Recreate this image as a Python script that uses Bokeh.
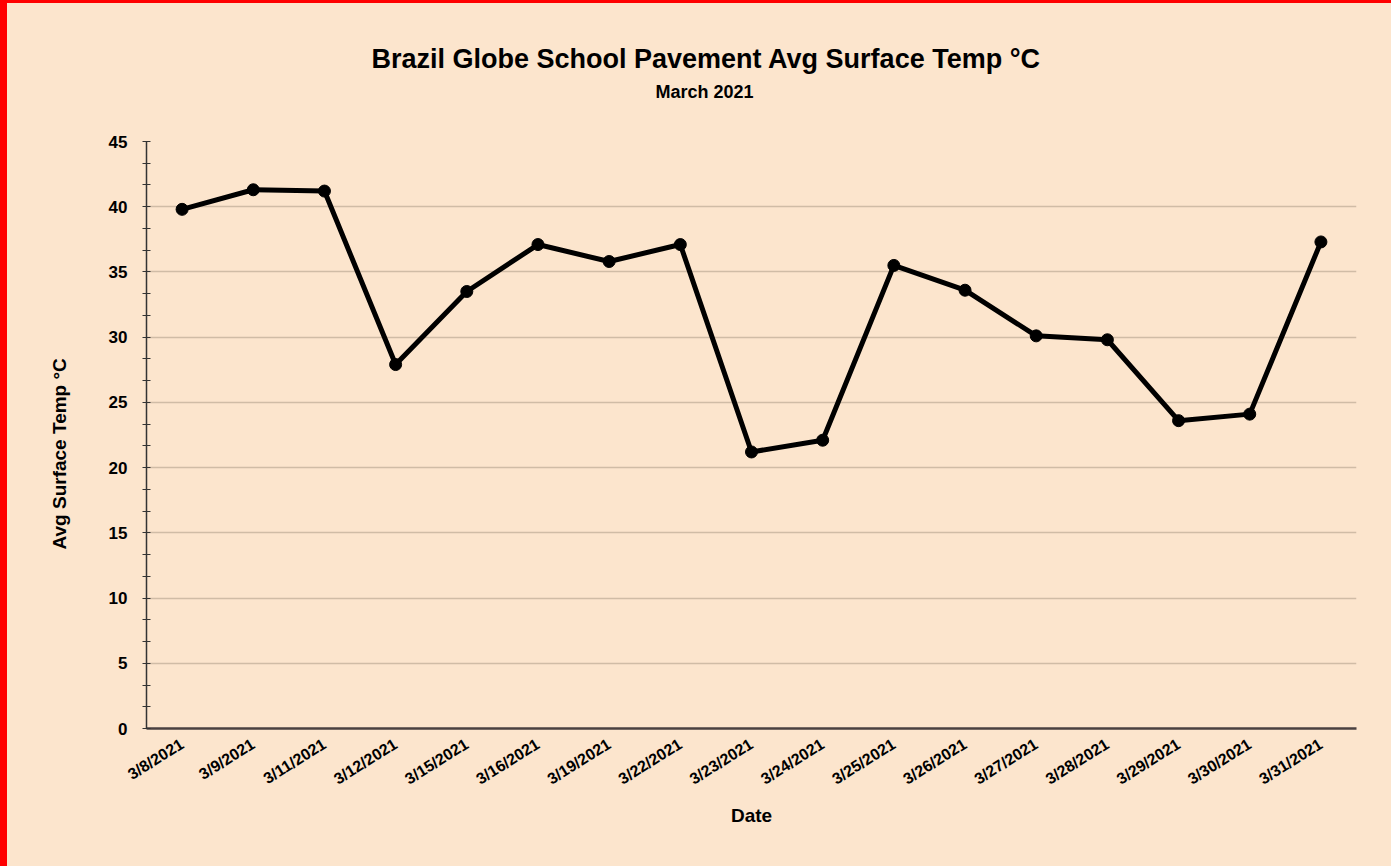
import math
from bokeh.plotting import figure
from bokeh.models import Title, FixedTicker, Range1d
from bokeh.embed import file_html
from bokeh.resources import INLINE

dates = ["3/8/2021", "3/9/2021", "3/11/2021", "3/12/2021", "3/15/2021", "3/16/2021",
         "3/19/2021", "3/22/2021", "3/23/2021", "3/24/2021", "3/25/2021", "3/26/2021",
         "3/27/2021", "3/28/2021", "3/29/2021", "3/30/2021", "3/31/2021"]
temps = [39.8, 41.3, 41.2, 27.9, 33.5, 37.1, 35.8, 37.1, 21.2, 22.1, 35.5, 33.6,
         30.1, 29.8, 23.6, 24.1, 37.3]
y_ticks = [0, 5, 10, 15, 20, 25, 30, 35, 40, 45]
y_label = "Avg Surface Temp °C"

BG = "#fce5cd"
FONT = "Liberation Sans"

p = figure(x_range=dates, width=1384, height=863, output_backend="svg",
           toolbar_location=None, title=None,
           background_fill_color=BG, border_fill_color=BG, outline_line_color=None,
           min_border_left=139, min_border_right=35, min_border_top=138, min_border_bottom=138)
p.y_range = Range1d(0, 45)

# titles (first added is nearest the plot)
p.add_layout(Title(text="March 2021", align="left", text_font=FONT, standoff=80, offset=509,
                   text_font_size="18px", text_font_style="bold", text_color="#000000"), "above")
p.add_layout(Title(text="Brazil Globe School Pavement Avg Surface Temp °C", align="left",
                   text_font=FONT, text_font_size="27px", text_font_style="bold", standoff=-68,
                   offset=225, text_color="#000000"), "above")

p.line(dates, temps, line_color="#000000", line_width=5)
p.scatter(dates, temps, size=12, fill_color="#000000", line_color="#000000")

p.xgrid.grid_line_color = None
p.ygrid.grid_line_color = "#d0bca6"
p.ygrid.grid_line_width = 1.5

p.yaxis.ticker = FixedTicker(ticks=y_ticks,
                             minor_ticks=[v for i in range(9) for v in (5 * i + 5 / 3, 5 * i + 10 / 3)])
p.yaxis.axis_line_color = "#333333"
p.yaxis.axis_line_width = 1.5
p.yaxis.major_tick_in = 4
p.yaxis.major_tick_out = 4
p.yaxis.minor_tick_in = 4
p.yaxis.minor_tick_out = 4
p.yaxis.major_tick_line_color = "#333333"
p.yaxis.minor_tick_line_color = "#333333"
p.yaxis.major_label_standoff = 15

# y axis title, placed like the reference (slightly below frame centre)
p.add_layout(Title(text=y_label, align="left", offset=179, standoff=72,
                   text_font=FONT, text_font_size="19px", text_font_style="bold",
                   text_color="#000000"), "left")

p.xaxis.axis_line_color = "#4a4040"
p.xaxis.axis_line_width = 2.5
p.xaxis.major_tick_line_color = None
p.xaxis.minor_tick_line_color = None
p.xaxis.major_label_orientation = math.radians(32)
p.xaxis.major_label_standoff = 8
p.xaxis.axis_label = "Date"
p.xaxis.axis_label_standoff = 7

for ax in (p.xaxis, p.yaxis):
    ax.major_label_text_font = FONT
    ax.major_label_text_font_style = "bold"
    ax.major_label_text_color = "#000000"
    ax.axis_label_text_font = FONT
    ax.axis_label_text_font_size = "19px"
    ax.axis_label_text_font_style = "bold"
    ax.axis_label_text_color = "#000000"
p.xaxis.major_label_text_font_size = "16px"
p.yaxis.major_label_text_font_size = "17px"

html = file_html(p, INLINE)
style = ("<style>html { background: #fce5cd !important; } "
         "html, body { margin: 0 !important; padding: 0 !important; } "
         "body { border-left: 7px solid #ff0000; border-top: 3px solid #ff0000; }</style>")
html = html.replace("</head>", style + "</head>", 1)
open("out.html", "w").write(html)
